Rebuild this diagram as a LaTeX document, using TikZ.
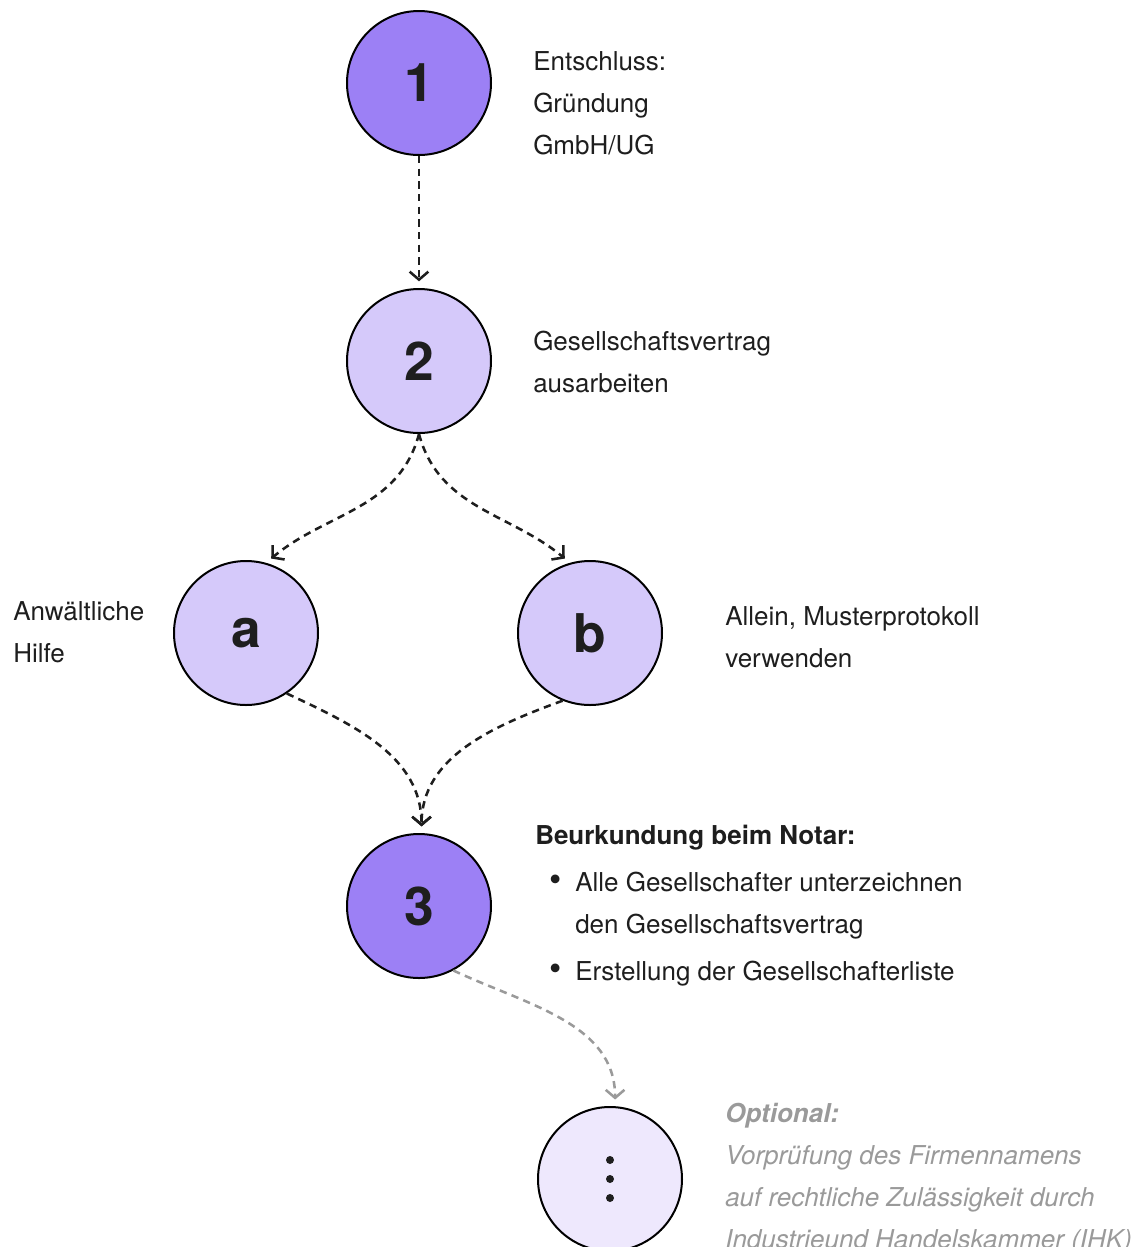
\documentclass[tikz,border=0pt]{standalone}
\usepackage{fontspec}
\setmainfont{TeX Gyre Heros}
\usepackage{graphicx}
\usepackage{xcolor}
\usepackage{tikz}
\usetikzlibrary{arrows.meta}
\definecolor{violetdark}{HTML}{9C80F5}
\definecolor{violetlight}{HTML}{D5C9FA}
\definecolor{violetpale}{HTML}{EEE8FD}
\definecolor{textdark}{HTML}{1E1E1E}
\definecolor{textgray}{HTML}{9A9A9A}
\newcommand{\listdot}{\llap{\scalebox{1.35}{\textbullet}\hspace{10pt}}}
\tikzset{
    stepnode/.style = {circle, draw=black, line width=1.5pt, minimum size=108pt, inner sep=0pt, text=textdark, font=\fontsize{40}{40}\selectfont\bfseries},
    dark_node/.style = {stepnode, fill=violetdark},
    light_node/.style = {stepnode, fill=violetlight},
    pale_node/.style = {stepnode, fill=violetpale},
    desc/.style = {align=left, anchor=base west, inner sep=0pt, text=textdark, font=\fontsize{19.5}{31.5}\selectfont},
    flow/.style = {-{Straight Barb[length=6pt, width=14pt]}, dash pattern=on 5.5pt off 4pt, line width=1.9pt, shorten >=5pt, draw=textdark}
}

\begin{document}
\begin{tikzpicture}[x=0.75pt, y=0.75pt]
    \useasboundingbox (0,0) rectangle (1132,-1247);
    \node [dark_node] (n1) at (419,-83) {1};
    \node [light_node] (n2) at (419,-361) {2};
    \node [light_node] (na) at (246,-633) {a};
    \node [light_node] (nb) at (590,-633) {b};
    \node [dark_node] (n3) at (419,-906) {3};
    \node [pale_node] (nopt) at (610,-1179) {};
    \foreach \dy in {-19,0,19}
        \fill [textdark] (nopt) ++(0,\dy) circle (3pt);

    \node [desc] (t1) at (533,-154) {Entschluss:\\Gründung\\GmbH/UG};
    \node [desc] (t2) at (533,-392) {Gesellschaftsvertrag\\ausarbeiten};
    \node [desc] (ta) at (13,-662) {Anwältliche\\Hilfe};
    \node [desc] (tb) at (725,-667) {Allein, Musterprotokoll\\verwenden};
    \node [desc] (t3) at (535,-980) {\textbf{Beurkundung beim Notar:}\\[3.5pt]
        \hspace*{30pt}\listdot Alle Gesellschafter unterzeichnen\\
        \hspace*{30pt}den Gesellschaftsvertrag\\[3.5pt]
        \hspace*{30pt}\listdot Erstellung der Gesellschafterliste};
    \node [desc, text=textgray] (topt) at (725,-1248) {\textbf{\textit{Optional:}}\\
        \textit{Vorprüfung des Firmennamens}\\
        \textit{auf rechtliche Zulässigkeit durch}\\
        \textit{Industrieund Handelskammer (IHK)}};

    \draw [flow] (n1) -- (n2);
    \draw [flow] (n2.south) to [out=-105, in=40] (na.74);
    \draw [flow] (n2.south) to [out=-75, in=140] (nb.106);
    \draw [flow] (na.-56) to [out=-25, in=90] (n3.88);
    \draw [flow] (nb.-112) to [out=200, in=90] (n3.88);
    \draw [flow, draw=textgray] (n3.-62) to [out=-25, in=90] (nopt.86);
\end{tikzpicture}
\end{document}
